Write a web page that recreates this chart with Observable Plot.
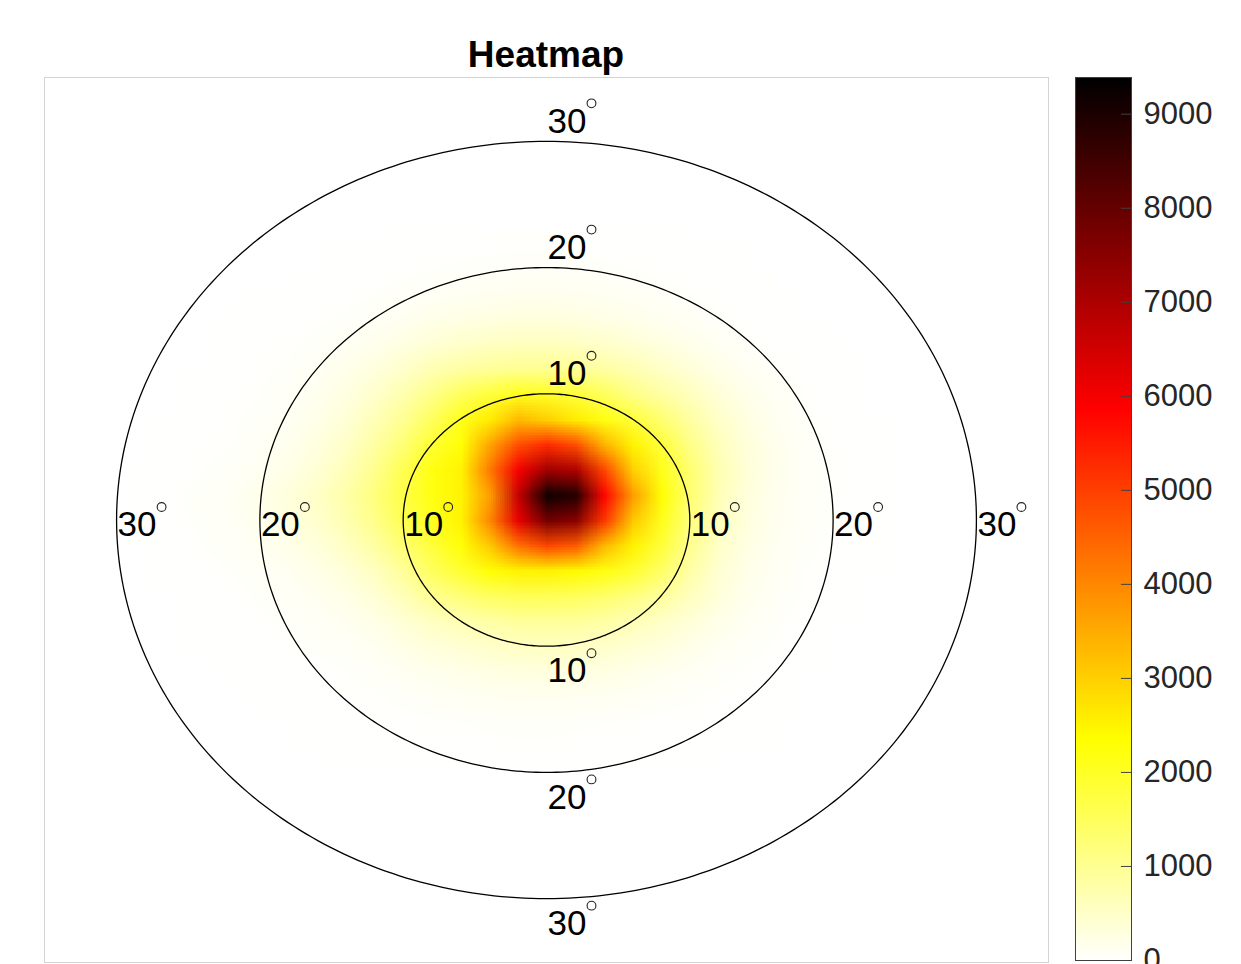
<!DOCTYPE html>
<html><head><meta charset="utf-8">
<script src="https://cdn.jsdelivr.net/npm/d3@7"></script>
<script src="https://cdn.jsdelivr.net/npm/@observablehq/plot@0.6"></script>
<style>
html,body{margin:0;padding:0;background:#fff;overflow:hidden}
#wrap{position:relative;width:1241px;height:964px;font-family:"Liberation Sans",Arial,Helvetica,sans-serif;overflow:hidden}
#title{position:absolute;left:0;width:1092px;top:36px;text-align:center;font-size:37px;font-weight:bold;line-height:37px;color:#000}
#main{position:absolute;left:0;top:0;width:1060px;height:964px}
#cbar{position:absolute;left:1060px;top:0;width:181px;height:964px}
</style></head><body>
<div id="wrap"><div id="main"></div><div id="cbar"></div><div id="title">Heatmap</div></div>
<script>
// grid columns (degrees, horizontal) and rows (degrees, vertical, top to bottom)
const heatX = [-28,-26,-24,-22,-20,-18,-16,-14,-12,-10,-8,-6,-4,-2,0,2,4,6,8,10,12,14,16,18,20,22,24,26,28];
const heatY = [22,20,18,16,14,12,10,8,6,4,2,0,-2,-4,-6,-8,-10,-12,-14,-16,-18,-20];
const heatRows = [
 [0,0,0,0,0,0,0,0,0,5,10,15,20,25,25,20,15,10,5,0,0,0,0,0,0,0,0,0,0],
 [0,0,0,0,0,0,0,5,10,20,35,45,55,60,60,55,45,35,20,10,5,0,0,0,0,0,0,0,0],
 [0,0,0,0,0,0,10,20,35,60,85,110,130,140,140,130,110,85,60,35,15,5,0,0,0,0,0,0,0],
 [0,0,0,0,5,10,25,50,85,130,190,240,280,300,300,280,230,180,130,80,45,20,10,0,0,0,0,0,0],
 [0,0,0,5,15,30,55,100,170,270,390,480,550,600,600,550,480,390,280,180,100,50,20,10,0,0,0,0,0],
 [0,0,0,5,25,50,100,180,300,480,700,850,950,1000,1000,950,850,700,520,350,200,100,45,20,5,0,0,0,0],
 [0,0,5,15,40,80,150,280,480,750,1100,1500,1800,2100,2000,1800,1500,1100,850,600,350,180,90,40,10,0,0,0,0],
 [0,0,10,25,55,110,210,380,650,1000,1500,2100,2600,3300,3000,2600,2200,1800,1300,850,500,260,120,50,20,0,0,0,0],
 [0,5,20,40,80,160,290,520,850,1300,1900,2300,3600,4800,5300,4800,3400,2500,1800,1100,620,320,150,60,25,5,0,0,0],
 [0,10,35,65,120,220,390,650,1050,1600,2200,2500,4200,6000,7200,7000,4900,3000,2100,1300,700,350,170,70,30,10,0,0,0],
 [5,25,60,100,190,320,520,800,1200,1700,2200,2500,3700,6700,9200,8900,5800,3700,2300,1300,650,300,140,70,35,10,0,0,0],
 [5,25,50,90,170,290,460,720,1100,1600,2100,2500,4000,6200,7800,7500,5100,3100,2100,1200,600,290,140,70,35,10,0,0,0],
 [0,10,35,60,110,200,330,540,850,1300,1800,2300,3100,4300,4900,4600,3300,2500,1800,1000,500,240,120,55,20,5,0,0,0],
 [0,5,20,35,70,120,210,350,580,950,1500,1900,2300,2500,2500,2400,2200,1900,1400,800,400,190,90,35,10,0,0,0,0],
 [0,0,10,20,45,80,130,220,380,650,1000,1250,1450,1550,1550,1500,1350,1150,900,580,320,150,70,25,5,0,0,0,0],
 [0,0,5,10,25,45,80,130,220,380,550,700,820,900,920,900,820,680,500,340,190,100,45,10,0,0,0,0,0],
 [0,0,0,5,10,25,45,70,120,230,320,400,480,540,560,540,480,380,300,190,110,60,25,5,0,0,0,0,0],
 [0,0,0,0,5,10,20,35,65,110,160,200,250,280,290,280,250,190,140,90,55,25,10,0,0,0,0,0,0],
 [0,0,0,0,0,5,10,15,30,55,80,100,120,130,130,120,110,90,65,45,20,10,5,0,0,0,0,0,0],
 [0,0,0,0,0,0,5,10,15,20,30,40,50,55,55,50,40,30,20,15,10,5,0,0,0,0,0,0,0],
 [0,0,0,0,0,0,0,5,5,10,15,20,20,25,25,20,20,15,10,5,0,0,0,0,0,0,0,0,0],
 [0,0,0,0,0,0,0,0,0,0,0,0,0,0,0,0,0,0,0,0,0,0,0,0,0,0,0,0,0]
];
const ringRadii = [10, 20, 30];
const ringLabels = ["10", "20", "30"];
const colorTicks = [0, 1000, 2000, 3000, 4000, 5000, 6000, 7000, 8000, 9000];
const colorMax = 9390;

const FONT = '"Liberation Sans", Arial, Helvetica, sans-serif';
const colorOpts = {
  type: "linear",
  domain: [0, colorMax * 0.25, colorMax * 0.625, colorMax],
  range: ["#ffffff", "#ffff00", "#ff0000", "#000000"],
  interpolate: "rgb",
  clamp: true
};

const stepX = heatX[1] - heatX[0];
const stepY = heatY[0] - heatY[1];
const heatFlat = heatRows.flat();

// ring outlines
const ringPts = ringRadii.flatMap(r => d3.range(0, 361, 1).map(a => ({
  r, x: r * Math.cos(a * Math.PI / 180), y: r * Math.sin(a * Math.PI / 180)
})));

const sides = [
  {px: 0, py: 1, dx: 1, dy: -20},
  {px: 0, py: -1, dx: 1, dy: 25},
  {px: -1, py: 0, dx: 1, dy: 5},
  {px: 1, py: 0, dx: 1, dy: 5}
];
const labelMarks = sides.flatMap(s => {
  const pts = ringRadii.map((r, i) => ({x: s.px * r, y: s.py * r, label: ringLabels[i]}));
  return [
    Plot.text(pts, {x: "x", y: "y", text: "label", textAnchor: "start", lineAnchor: "middle",
      dx: s.dx, dy: s.dy, fontSize: 35, fill: "#000", fontFamily: FONT}),
    Plot.dot(pts, {x: "x", y: "y", r: 4.4, fill: "none", stroke: "#222", strokeWidth: 1.1,
      dx: s.dx + 44, dy: s.dy - 18})
  ];
});

const main = Plot.plot({
  width: 1060, height: 964,
  marginLeft: 44, marginRight: 12, marginTop: 77, marginBottom: 2,
  x: {domain: [-35.03, 35.03], axis: null},
  y: {domain: [-35.06, 35.06], axis: null},
  color: colorOpts,
  style: {fontFamily: FONT, background: "white"},
  marks: [
    Plot.raster(heatFlat, {
      width: heatX.length, height: heatY.length,
      x1: heatX[0] - stepX / 2, x2: heatX[heatX.length - 1] + stepX / 2,
      y1: heatY[0] + stepY / 2, y2: heatY[heatY.length - 1] - stepY / 2,
      fill: d => d, imageRendering: "auto"
    }),
    Plot.frame({stroke: "#d4d4d4", strokeWidth: 1}),
    Plot.line(ringPts, {x: "x", y: "y", z: "r", stroke: "#000", strokeWidth: 1.3}),
    ...labelMarks
  ]
});
document.getElementById("main").append(main);

const cbar = Plot.plot({
  width: 181, height: 964,
  marginLeft: 15, marginRight: 110, marginTop: 77, marginBottom: 4,
  x: {domain: [0, 1], axis: null},
  y: {domain: [0, colorMax], axis: null},
  color: colorOpts,
  style: {fontFamily: FONT, background: "transparent", color: "#262626", overflow: "visible"},
  marks: [
    Plot.raster({fill: (x, y) => y, x1: 0, x2: 1, y1: 0, y2: colorMax, pixelSize: 1}),
    Plot.ruleY(colorTicks, {y: d => d, x1: 0.82, x2: 1, stroke: "#404040", strokeWidth: 1}),
    Plot.frame({stroke: "#404040", strokeWidth: 1}),
    Plot.axisY(colorTicks, {anchor: "right", tickSize: 0, tickPadding: 12, fontSize: 31,
      tickFormat: d => String(d), fill: "#262626", fontFamily: FONT})
  ]
});
document.getElementById("cbar").append(cbar);
</script>
</body></html>
